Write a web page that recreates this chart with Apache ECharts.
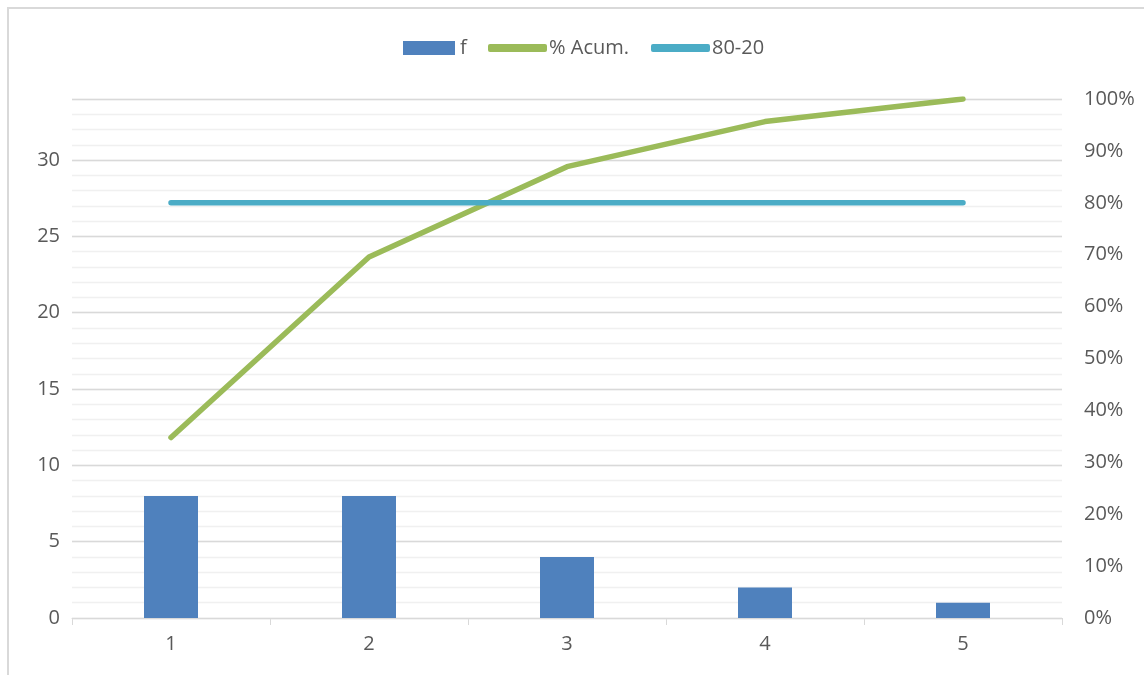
<!DOCTYPE html>
<html>
<head>
<meta charset="utf-8">
<script src="https://cdn.jsdelivr.net/npm/echarts@6/dist/echarts.min.js"></script>
<style>
html,body{margin:0;padding:0;background:#fff;}
#chart{width:1144px;height:675px;}
</style>
</head>
<body>
<div id="chart"></div>
<script>
var categories = ['1', '2', '3', '4', '5'];
var fValues = [8, 8, 4, 2, 1];
var acumPct = [34.78, 69.57, 86.96, 95.65, 100];
var ref8020 = [80, 80, 80, 80, 80];

var chart = echarts.init(document.getElementById('chart'));
var font = '"Open Sans", Lato, sans-serif';
var txt = '#595959';
var fs = 20;
chart.setOption({
  animation: false,
  textStyle: {fontFamily: font},
  graphic: [{
    type: 'rect', silent: true,
    shape: {x: 8, y: 8, width: 1300, height: 800},
    style: {fill: 'none', stroke: '#d9d9d9', lineWidth: 2}
  }],
  legend: [
    {
      top: 38, left: 403, padding: 0,
      itemWidth: 52, itemHeight: 14,
      textStyle: {fontSize: fs, color: txt, fontFamily: font, lineHeight: 20},
      data: [{name: 'f', icon: 'rect'}]
    },
    {
      top: 38, left: 488, padding: 0,
      itemGap: 22,
      itemWidth: 59, itemHeight: 8,
      textStyle: {fontSize: fs, color: txt, fontFamily: font, lineHeight: 20, padding: [0, 0, 0, -3]},
      data: [{name: '% Acum.', icon: 'roundRect'}, {name: '80-20', icon: 'roundRect'}]
    }
  ],
  grid: {left: 72, right: 82, top: 99, bottom: 57},
  xAxis: {
    type: 'category', data: categories, boundaryGap: true,
    axisLine: {lineStyle: {color: '#d9d9d9', width: 1}},
    axisTick: {show: true, length: 7, lineStyle: {color: '#d9d9d9'}},
    axisLabel: {fontSize: fs, color: txt, margin: 16, fontFamily: font}
  },
  yAxis: [
    {
      type: 'value', min: 0, max: 34, interval: 5, position: 'left',
      axisLine: {show: false}, axisTick: {show: false},
      axisLabel: {fontSize: fs, color: txt, margin: 12, fontFamily: font,
        formatter: function (v) { return v % 5 === 0 ? String(v) : ''; }},
      splitLine: {show: true, lineStyle: {color: '#d9d9d9', width: 1.3}},
      z: 2
    },
    {
      type: 'value', min: 0, max: 100, interval: 10, position: 'right',
      axisLine: {show: false}, axisTick: {show: false},
      axisLabel: {fontSize: fs, color: txt, margin: 22, fontFamily: font,
        formatter: '{value}%'},
      splitLine: {show: false}
    },
    {
      type: 'value', min: 0, max: 34, interval: 1, position: 'left',
      axisLine: {show: false}, axisTick: {show: false}, axisLabel: {show: false},
      splitLine: {show: true, lineStyle: {color: '#f0f0f0', width: 1.3}},
      z: 1
    }
  ],
  series: [
    {
      name: 'f', type: 'bar', yAxisIndex: 0, data: fValues,
      barWidth: 54,
      itemStyle: {color: '#4f81bd'}, z: 3
    },
    {
      name: '% Acum.', type: 'line', yAxisIndex: 1, data: acumPct,
      symbol: 'none', color: '#9bbb59',
      lineStyle: {color: '#9bbb59', width: 5.5, cap: 'round', join: 'round'}, z: 4
    },
    {
      name: '80-20', type: 'line', yAxisIndex: 1, data: ref8020,
      symbol: 'none', color: '#4bacc6',
      lineStyle: {color: '#4bacc6', width: 5.5, cap: 'round'}, z: 4
    }
  ]
});
</script>
</body>
</html>
